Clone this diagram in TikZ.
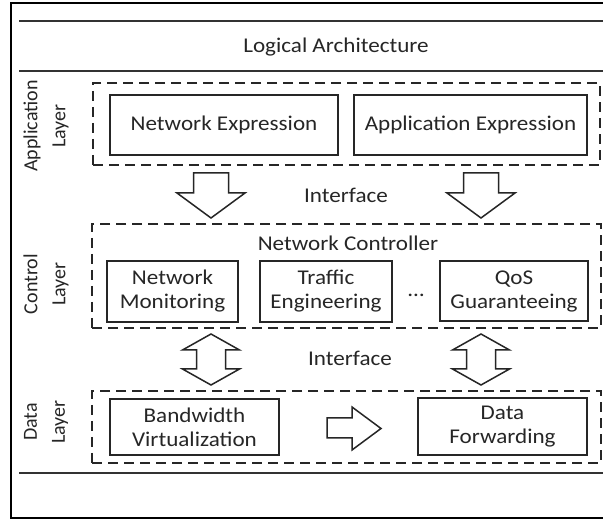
\documentclass[tikz,border=0pt]{standalone}
\usepackage{fontspec}
\setmainfont{Carlito}[FakeStretch=1.1]
\newfontfamily\sidefont{Carlito}
\begin{document}
\begin{tikzpicture}[x=1pt,y=-1pt,
  every node/.style={text=black!85, font=\fontsize{21}{24}\selectfont},
  box/.style={draw=black!85, line width=1.5pt, align=center, inner sep=0pt},
  layerbox/.style={draw=black!85, line width=1.8pt, dash pattern=on 10pt off 6pt, inner sep=0pt},
  sidelabel/.style={rotate=90, align=center, font=\sidefont\fontsize{20}{28}\selectfont},
  rule/.style={draw=black!80, line width=2pt},
  fatarrow/.style={draw=black!85, fill=white, line width=1.5pt, line join=miter}
]
\useasboundingbox (0,0) rectangle (603,521);
\fill[white] (0,0) rectangle (603,521);
\clip (0,0) rectangle (603,521);

% outer frame (open to the right) and horizontal rules
\draw[black, line width=2pt] (640,3.5) -- (10.5,3.5) -- (10.5,518) -- (640,518);
\draw[rule] (19,21) -- (640,21);
\draw[rule] (19,71.5) -- (640,71.5);
\draw[rule] (19,473) -- (640,473);

\node (title) at (336,47) {Logical Architecture};

% application layer
\node[layerbox, minimum width=507pt, minimum height=82pt] (app) at (346.5,124) {};
\node[box, minimum width=228pt, minimum height=60pt] (netexp) at (224,125) {Network Expression};
\node[box, minimum width=233pt, minimum height=60pt] (appexp) at (470.5,125) {Application Expression};
\node[sidelabel] (applbl) at (46,126) {Application\\Layer};

% control layer
\node[layerbox, minimum width=509pt, minimum height=104pt] (ctl) at (346.5,276) {};
\node (nc) at (348,243) {Network Controller};
\node[box, minimum width=131pt, minimum height=61pt] (mon) at (172.5,291.5) {Network\\Monitoring};
\node[box, minimum width=132pt, minimum height=61pt] (te) at (326,291.5) {Traffic\\Engineering};
\node[box, minimum width=148pt, minimum height=60pt] (qos) at (514,291) {QoS\\Guaranteeing};
\node (dots) at (416,295) {\ldots};
\node[sidelabel] (ctllbl) at (46,284) {Control\\Layer};

% data layer
\node[layerbox, minimum width=509pt, minimum height=72pt] (data) at (346.5,427) {};
\node[box, minimum width=169pt, minimum height=56pt] (bw) at (194.5,427) {Bandwidth\\Virtualization};
\node[box, minimum width=169pt, minimum height=57pt] (fwd) at (502.5,426.5) {Data\\Forwarding};
\node[sidelabel] (datalbl) at (46,422) {Data\\Layer};

% interface labels
\node (if1) at (346,195) {Interface};
\node (if2) at (350,358) {Interface};

% block arrows between the layers
\foreach \cx in {211,481} {
  \draw[fatarrow] (\cx-17.5,173) -- (\cx+17.5,173) -- (\cx+17.5,193) -- (\cx+34,193)
    -- (\cx,218) -- (\cx-34,193) -- (\cx-17.5,193) -- cycle;
  \draw[fatarrow] (\cx,334) -- (\cx+28.5,350) -- (\cx+14.5,350) -- (\cx+14.5,369)
    -- (\cx+28.5,369) -- (\cx,385) -- (\cx-28.5,369) -- (\cx-14.5,369)
    -- (\cx-14.5,350) -- (\cx-28.5,350) -- cycle;
}
\draw[fatarrow] (327,418) -- (352,418) -- (352,407) -- (381,428.5) -- (352,450)
  -- (352,438) -- (327,438) -- cycle;
\end{tikzpicture}
\end{document}
